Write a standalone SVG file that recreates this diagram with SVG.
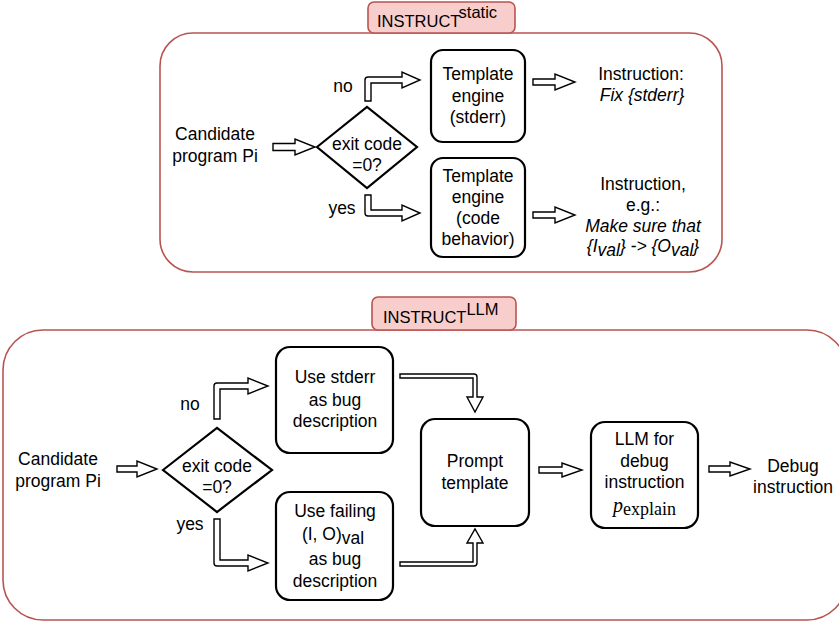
<svg xmlns="http://www.w3.org/2000/svg" width="839" height="625" viewBox="0 0 839 625">
<style>
.t{font-family:"Liberation Sans",Arial,Helvetica,sans-serif;font-size:17.5px;text-anchor:middle;fill:#000}
.it{font-style:italic}
.lbl{font-family:"Liberation Sans",Arial,Helvetica,sans-serif;font-size:16.5px;fill:#000}
.cont{fill:#fff;stroke:#b85450;stroke-width:1.6}
.tag{fill:#f8cecc;stroke:#b85450;stroke-width:1.6}
.node{fill:#fff;stroke:#000;stroke-width:2.2}
.arr{fill:#fff;stroke:#000;stroke-width:1.4;stroke-linejoin:miter}
.serif{font-family:"Liberation Serif","Times New Roman",serif}
</style>
<rect width="839" height="625" fill="#fff"/>
<g id="static-container">
<rect class="cont" x="160" y="33" width="562" height="239" rx="33"/>
<rect class="tag" x="368" y="2" width="147" height="31" rx="6"/>
<text class="lbl" x="377" y="27">INSTRUCT<tspan dy="-9">static</tspan></text>
</g>
<g id="llm-container">
<rect class="cont" x="3" y="330" width="844" height="290" rx="40"/>
<rect class="tag" x="372" y="297" width="144" height="33" rx="6"/>
<text class="lbl" x="383" y="323">INSTRUCT<tspan dy="-8">LLM</tspan></text>
</g>
<g id="connectors">
<path class="arr" d="M273,143.5 L295,143.5 L295,139 L315,147 L295,155 L295,150.5 L273,150.5 Z"/>
<path class="arr" d="M365,101 L365,80 Q365,77 368,77 L402,77 L402,72 L420,80 L402,88 L402,83 L371,83 L371,101 Z"/>
<path class="arr" d="M365,195 L365,213 Q365,216 368,216 L402,216 L402,221 L420,213 L402,205 L402,210 L371,210 L371,195 Z"/>
<path class="arr" d="M533,79 L555,79 L555,74 L575,82 L555,90 L555,85 L533,85 Z"/>
<path class="arr" d="M533,212 L555,212 L555,207 L575,215 L555,223 L555,218 L533,218 Z"/>
<path class="arr" d="M117,466 L137,466 L137,461 L157,469 L137,477 L137,472 L117,472 Z"/>
<path class="arr" d="M214,419 L214,386 Q214,383 217,383 L248,383 L248,378 L268,386 L248,394 L248,389 L220,389 L220,419 Z"/>
<path class="arr" d="M214,519 L214,563 Q214,566 217,566 L248,566 L248,571 L268,563 L248,555 L248,560 L220,560 L220,519 Z"/>
<path class="arr" d="M400,374 L474,374 Q477,374 477,377 L477,397 L483,397 L475,412 L467,397 L473,397 L473,378 L400,378 Z"/>
<path class="arr" d="M400,566 L474,566 Q477,566 477,563 L477,543 L483,543 L475,529 L467,543 L473,543 L473,562 L400,562 Z"/>
<path class="arr" d="M539,467 L562,467 L562,463 L582,470 L562,477 L562,473 L539,473 Z"/>
<path class="arr" d="M709,466 L730,466 L730,462 L750,469 L730,476 L730,472 L709,472 Z"/>
</g>
<g id="cand1"><text class="t" x="215" y="140">Candidate</text><text class="t" x="215" y="162">program Pi</text></g>
<g id="dec1"><polygon class="node" points="317,147 367,107 417,147 367,188"/><text class="t" x="367" y="150">exit code</text><text class="t" x="367" y="171">=0?</text></g>
<g id="lbl-no1"><text class="t" x="343" y="92">no</text></g>
<g id="lbl-yes1"><text class="t" x="342" y="214">yes</text></g>
<g id="te1"><rect class="node" x="431" y="50" width="94" height="92" rx="12"/><text class="t" x="478" y="80">Template</text><text class="t" x="478" y="102">engine</text><text class="t" x="478" y="123">(stderr)</text></g>
<g id="te2"><rect class="node" x="431" y="158" width="94" height="99" rx="12"/><text class="t" x="478" y="182">Template</text><text class="t" x="478" y="203">engine</text><text class="t" x="478" y="224">(code</text><text class="t" x="478" y="245">behavior)</text></g>
<g id="instr1"><text class="t" x="641" y="80">Instruction:</text><text class="t it" x="642" y="101">Fix {stderr}</text></g>
<g id="instr2"><text class="t" x="643" y="190">Instruction,</text><text class="t" x="643" y="211">e.g.:</text><text class="t it" x="643" y="232">Make sure that</text><text class="t it" x="643" y="252">{I<tspan dy="4">val</tspan><tspan dy="-4">} -&gt; {O</tspan><tspan dy="4">val</tspan><tspan dy="-4">}</tspan></text></g>
<g id="cand2"><text class="t" x="58" y="465">Candidate</text><text class="t" x="58" y="487">program Pi</text></g>
<g id="dec2"><polygon class="node" points="163,470 217,428 272,470 217,512"/><text class="t" x="217" y="472">exit code</text><text class="t" x="217" y="493">=0?</text></g>
<g id="lbl-no2"><text class="t" x="190" y="410">no</text></g>
<g id="lbl-yes2"><text class="t" x="190" y="530">yes</text></g>
<g id="stderr"><rect class="node" x="276" y="347" width="117" height="106" rx="14"/><text class="t" x="335" y="383">Use stderr</text><text class="t" x="335" y="406">as bug</text><text class="t" x="335" y="427">description</text></g>
<g id="failing"><rect class="node" x="276" y="492" width="117" height="108" rx="14"/><text class="t" x="335" y="517">Use failing</text><text class="t" x="333" y="540">(I, O)<tspan dy="4">val</tspan></text><text class="t" x="335" y="565">as bug</text><text class="t" x="335" y="587">description</text></g>
<g id="prompt"><rect class="node" x="421" y="419" width="108" height="107" rx="14"/><text class="t" x="475" y="467">Prompt</text><text class="t" x="475" y="489">template</text></g>
<g id="llm"><rect class="node" x="591" y="422" width="107" height="106" rx="14"/><text class="t" x="644.5" y="445">LLM for</text><text class="t" x="644.5" y="467">debug</text><text class="t" x="644.5" y="488">instruction</text><text class="t serif" x="644.5" y="512"><tspan font-style="italic" font-size="20">p</tspan><tspan dy="3" font-size="18">explain</tspan></text></g>
<g id="debug"><text class="t" x="793" y="472">Debug</text><text class="t" x="793" y="493">instruction</text></g>
</svg>
